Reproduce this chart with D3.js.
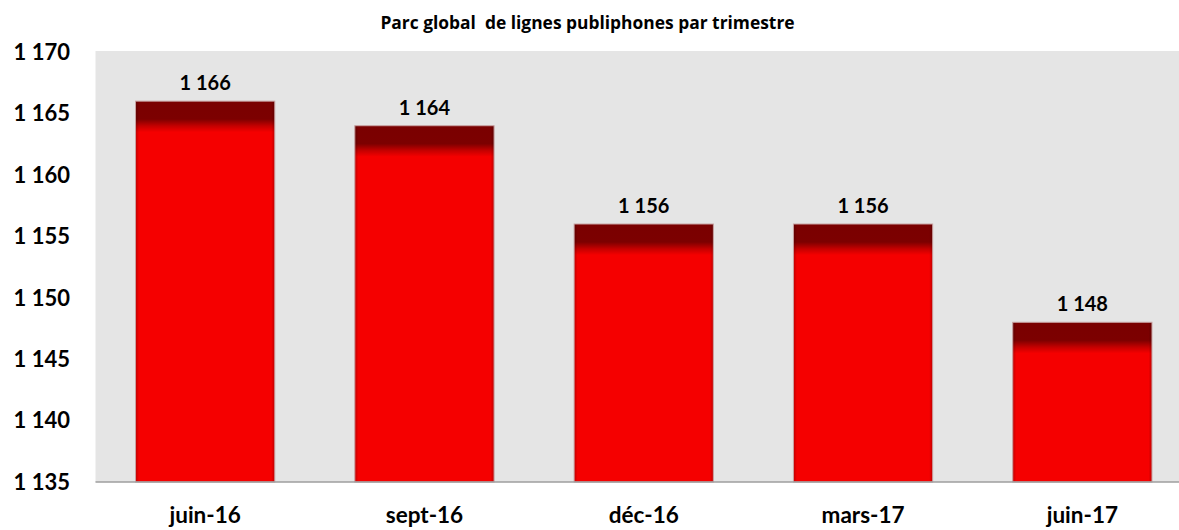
<!DOCTYPE html>
<html>
<head>
<meta charset="utf-8">
<script src="https://cdn.jsdelivr.net/npm/d3@7"></script>
<style>
  html, body { margin: 0; padding: 0; background: #fff; }
  svg { display: block; }
</style>
</head>
<body>
<svg id="chart" width="1179" height="530"></svg>
<script>
const categories = ["juin-16", "sept-16", "déc-16", "mars-17", "juin-17"];
const values = [1166, 1164, 1156, 1156, 1148];
const yTicks = [1135, 1140, 1145, 1150, 1155, 1160, 1165, 1170];
const title = "Parc global  de lignes publiphones par trimestre";

const W = 1179, H = 530;
const plot = { left: 95.5, right: 1192, top: 52, bottom: 482 };
const font = "Lato, 'Open Sans', sans-serif";
const fmt = v => d3.format(",")(v).replace(/,/g, " ");

const svg = d3.select("#chart");
const defs = svg.append("defs");

const x = d3.scaleBand()
  .domain(categories)
  .range([plot.left, plot.right])
  .paddingInner(0.365)
  .paddingOuter(0.1825);

const y = d3.scaleLinear()
  .domain([1135, 1170])
  .range([plot.bottom, plot.top]);

// plot background
svg.append("rect")
  .attr("x", plot.left).attr("y", plot.top - 1)
  .attr("width", W - plot.left).attr("height", plot.bottom - plot.top + 1)
  .attr("fill", "#e5e5e5");

// title
svg.append("text")
  .attr("x", 587.5).attr("y", 29)
  .attr("text-anchor", "middle")
  .attr("font-family", "'Open Sans', Lato, sans-serif").attr("font-weight", "bold")
  .attr("font-size", 17.4).attr("fill", "#000")
  .attr("xml:space", "preserve")
  .style("white-space", "pre")
  .text(title);

// side shading gradient (horizontal)
const side = defs.append("linearGradient").attr("id", "side")
  .attr("x1", 0).attr("x2", 1).attr("y1", 0).attr("y2", 0);
side.append("stop").attr("offset", 0).attr("stop-color", "#000").attr("stop-opacity", 0.22);
side.append("stop").attr("offset", 0.025).attr("stop-color", "#000").attr("stop-opacity", 0);
side.append("stop").attr("offset", 0.975).attr("stop-color", "#000").attr("stop-opacity", 0);
side.append("stop").attr("offset", 1).attr("stop-color", "#000").attr("stop-opacity", 0.22);

const data = categories.map((c, i) => ({ c, v: values[i], i }));

// per-bar vertical gradients (dark top band of constant pixel height)
data.forEach(d => {
  const top = y(d.v);
  const g = defs.append("linearGradient").attr("id", "vg" + d.i)
    .attr("gradientUnits", "userSpaceOnUse")
    .attr("x1", 0).attr("x2", 0).attr("y1", top).attr("y2", top + 31);
  g.append("stop").attr("offset", 0).attr("stop-color", "#7a0000");
  g.append("stop").attr("offset", 0.58).attr("stop-color", "#7c0000");
  g.append("stop").attr("offset", 0.8).attr("stop-color", "#c40000");
  g.append("stop").attr("offset", 1).attr("stop-color", "#f50000");
});

const bars = svg.append("g");
bars.selectAll("rect.bar").data(data).join("rect")
  .attr("class", "bar")
  .attr("x", d => x(d.c)).attr("y", d => y(d.v))
  .attr("width", x.bandwidth()).attr("height", d => y(1135) - y(d.v))
  .attr("fill", d => `url(#vg${d.i})`);
bars.selectAll("rect.shade").data(data).join("rect")
  .attr("class", "shade")
  .attr("x", d => x(d.c)).attr("y", d => y(d.v))
  .attr("width", x.bandwidth()).attr("height", d => y(1135) - y(d.v))
  .attr("fill", "url(#side)")
  .attr("stroke", "#c9a3a3").attr("stroke-width", 1);

// axis line
svg.append("line")
  .attr("x1", plot.left).attr("x2", W)
  .attr("y1", y(1135)).attr("y2", y(1135))
  .attr("stroke", "#9e9e9e").attr("stroke-width", 1.6);

// y tick labels
svg.append("g").selectAll("text").data(yTicks).join("text")
  .attr("x", 70).attr("y", d => y(d))
  .attr("dy", "0.36em")
  .attr("text-anchor", "end")
  .attr("font-family", font).attr("font-weight", "bold")
  .attr("font-size", 22).attr("fill", "#000")
  .text(fmt);

// x labels
svg.append("g").selectAll("text").data(categories).join("text")
  .attr("x", d => x(d) + x.bandwidth() / 2).attr("y", 523)
  .attr("text-anchor", "middle")
  .attr("font-family", font).attr("font-weight", "bold")
  .attr("font-size", 22.5).attr("fill", "#000")
  .text(d => d);

// value labels
svg.append("g").selectAll("text").data(data).join("text")
  .attr("x", d => x(d.c) + x.bandwidth() / 2).attr("y", d => y(d.v) - 11)
  .attr("text-anchor", "middle")
  .attr("font-family", font).attr("font-weight", "bold")
  .attr("font-size", 20).attr("fill", "#000")
  .text(d => fmt(d.v));
</script>
</body>
</html>
